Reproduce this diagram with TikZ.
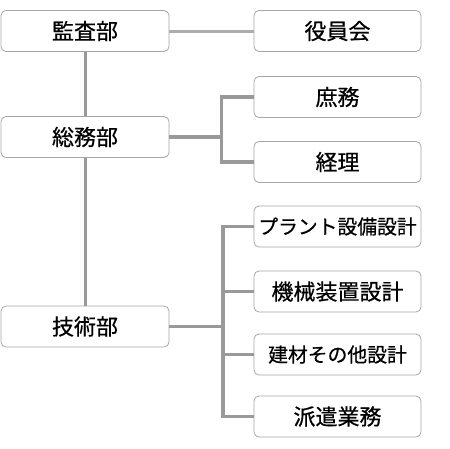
\documentclass[tikz,border=0pt]{standalone}
\usepackage{fontspec}
\setmainfont{Noto Sans CJK JP}[FakeBold=0.6]
\usetikzlibrary{positioning}
\def\leftx{85}
\def\rightx{337.5}

\begin{document}
\begin{tikzpicture}[x=1pt,y=-1pt,draw=black!40, line width=3pt]
    \tikzstyle{unit}=[rectangle,rounded corners=5pt,draw=black!35,line width=0.8pt,fill=white,
        minimum width=167pt,minimum height=41pt,inner sep=0pt,font=\fontsize{22}{22}\selectfont]
    \tikzstyle{dept}=[unit, minimum width=168pt]
    \tikzstyle{sub}=[unit]
    \tikzstyle{long sub}=[unit, font=\fontsize{19.8}{20}\selectfont]

    \useasboundingbox (0,0) rectangle (450,448);

    % Draw the departments on the left
    \node[dept] (kansa) at (\leftx,31) {監査部};
    \node[dept] (soumu) at (\leftx,137) {総務部};
    \node[dept] (gijutsu) at (\leftx,326.5) {技術部};

    % Draw the board and the sections on the right
    \node[sub] (yakuin) at (\rightx,31) {役員会};
    \node[sub] (shomu) at (\rightx,97) {庶務};
    \node[sub] (keiri) at (\rightx,162) {経理};
    \node[long sub] (G-1) at (\rightx,226.5) {プラント設備設計};
    \node[sub] (G-2) at (\rightx,291.5) {機械装置設計};
    \node[long sub] (G-3) at (\rightx,354.5) {建材その他設計};
    \node[sub] (G-4) at (\rightx,416.5) {派遣業務};

    % Junctions of the brackets
    \coordinate (sj) at (221.5,137);
    \coordinate (gj) at (223,326.5);

    % Connect the departments
    \draw (kansa) -- (soumu);
    \draw (soumu) -- (gijutsu);
    \draw[draw=black!32] (kansa) -- (yakuin);

    % Bracket of the general affairs department
    \draw[line width=3.5pt] (soumu) -- (sj);
    \foreach \dest in {shomu,keiri}
        \draw[line width=3.5pt] (sj) |- (\dest);

    % Bracket of the engineering department
    \draw[line width=3.5pt] (gijutsu) -- (gj);
    \foreach \dest in {1,...,4}
        \draw[line width=3.5pt] (gj) |- (G-\dest);

\end{tikzpicture}
\end{document}
